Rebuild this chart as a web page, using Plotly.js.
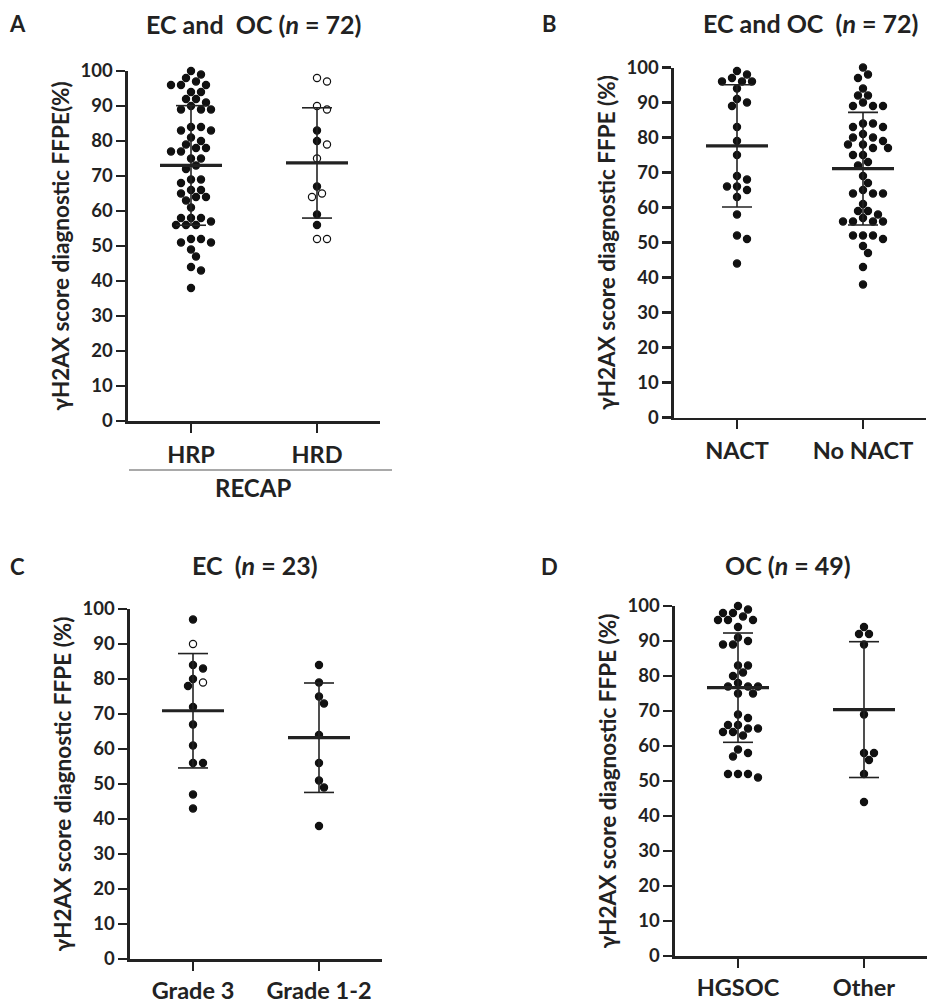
<!DOCTYPE html>
<html>
<head>
<meta charset="utf-8">
<script src="https://cdn.plot.ly/plotly-3.0.1.min.js"></script>
<style>html,body{margin:0;padding:0;background:#fff}#chart{width:927px;height:1003px}</style>
</head>
<body>
<div id="chart"></div>
<script>
// ---------- data ----------
const catsA = ['HRP', 'HRD'];
const hrpValues = [100,99,98,97,96,96,96,94,94,92,92,91,90,89,89,89,84,84,83,83,81,80,79,78,78,77,77,75,75,73,72,69,69,68,66,66,65,64,64,63,61,58,58,58,57,56,56,56,52,52,51,51,49,47,44,43,38];
const hrdValues = [98,97,90,89,83,80,79,75,67,65,64,59,56,52,52];
const hrdOpen   = [1,1,1,1,0,0,1,1,0,1,1,0,0,1,1];

const catsB = ['NACT', 'No NACT'];
const nactValues = [99,98,97,96,96,96,94,91,90,89,83,79,75,69,68,66,66,65,63,58,52,51,44];
const noNactValues = [100,98,97,94,92,92,90,89,89,89,84,84,83,83,81,80,80,79,78,78,77,77,75,75,73,72,69,67,65,64,64,64,61,59,59,58,57,56,56,56,56,52,52,52,51,49,47,43,38];

const catsC = ['Grade 3', 'Grade 1-2'];
const grade3Values = [97,90,84,83,80,79,78,72,67,61,56,56,47,43];
const grade3Open   = [0,1,0,0,0,1,0,0,0,0,0,0,0,0];
const grade12Values = [84,79,75,73,64,56,51,49,38];

const catsD = ['HGSOC', 'Other'];
const hgsocValues = [100,99,98,98,97,96,96,96,94,91,90,89,89,83,83,81,80,78,77,77,77,75,75,69,68,66,66,65,65,64,64,63,59,58,57,52,52,52,51];
const otherValues = [94,92,92,89,69,58,58,56,52,44];

const yTicks = [0,10,20,30,40,50,60,70,80,90,100];

// ---------- layout helpers ----------
const W = 927, H = 1003;
const FONT = 'Lato, "Open Sans", sans-serif';
const INK = '#222';

const panels = [
  {key:'', cats:catsA, groups:[{v:hrpValues},{v:hrdValues, open:hrdOpen}], xd:[128/W, 380/W], yd:[1-421/H, 1-71/H],
   ytitle:'γH2AX score diagnostic FFPE(%)', lstand:2},
  {key:'2', cats:catsB, groups:[{v:nactValues},{v:noNactValues}], xd:[674/W, 926/W], yd:[1-417.5/H, 1-67.5/H],
   ytitle:'γH2AX score diagnostic FFPE (%)', lstand:2},
  {key:'3', cats:catsC, groups:[{v:grade3Values, open:grade3Open},{v:grade12Values}], xd:[130/W, 382/W], yd:[1-959/H, 1-609/H],
   ytitle:'γH2AX score diagnostic FFPE (%)', lstand:0},
  {key:'4', cats:catsD, groups:[{v:hgsocValues},{v:otherValues}], xd:[675/W, 927/W], yd:[1-956/H, 1-606/H],
   ytitle:'γH2AX score diagnostic FFPE (%)', lstand:0}
];

function mean(a){return a.reduce((s,x)=>s+x,0)/a.length;}
function sd(a){const m=mean(a);return Math.sqrt(a.reduce((s,x)=>s+(x-m)*(x-m),0)/(a.length-1));}

// simple beeswarm: returns x offsets in px
function swarm(values, pxY, step, minD){
  const order = values.map((v,i)=>i).sort((a,b)=>values[b]-values[a]);
  const placed = [];
  const off = new Array(values.length).fill(0);
  for (const i of order){
    const y = values[i]*pxY;
    let done = false;
    for (let k=0; !done && k<20; k++){
      const cands = k===0 ? [0] : [k*step, -k*step];
      for (const c of cands){
        let ok = true;
        for (const p of placed){
          const dx=c-p.x, dy=y-p.y;
          if (dx*dx+dy*dy < minD*minD){ok=false;break;}
        }
        if (ok){off[i]=c;placed.push({x:c,y:y});done=true;break;}
      }
    }
  }
  return off;
}

const traces = [];
const layout = {
  width: W, height: H,
  margin: {l:0, r:0, t:0, b:0},
  paper_bgcolor: '#fff', plot_bgcolor: 'rgba(0,0,0,0)',
  showlegend: false,
  font: {family: FONT, color: INK},
  annotations: [], shapes: []
};

panels.forEach(p => {
  const xa = 'xaxis'+p.key, ya = 'yaxis'+p.key;
  const xr = 'x'+p.key, yr = 'y'+p.key;
  const pxX = (p.xd[1]-p.xd[0])*W/2;
  const pxY = (p.yd[1]-p.yd[0])*H/100;
  layout[xa] = {
    domain: p.xd, anchor: yr, range: [-0.5, 1.5], fixedrange: true,
    tickvals: [0,1], ticktext: p.cats,
    showline: true, linewidth: 2.6, linecolor: INK,
    ticks: 'outside', ticklen: 9, tickwidth: 2.6, tickcolor: INK,
    showgrid: false, zeroline: false, ticklabelstandoff: p.lstand,
    tickfont: {family: FONT, size: 23.5, weight: 'bold', color: INK}
  };
  layout[ya] = {
    domain: p.yd, anchor: xr, range: [0, 100], fixedrange: true,
    tickvals: yTicks, ticktext: yTicks.map(String),
    showline: true, linewidth: 2.6, linecolor: INK,
    ticks: 'outside', ticklen: 9, tickwidth: 2.6, tickcolor: INK,
    showgrid: false, zeroline: false,
    tickfont: {family: FONT, size: 18.5, weight: 'bold', color: INK},
    title: {text: p.ytitle, standoff: 5, font: {family: FONT, size: 22.5, weight: 'bold', color: INK}}
  };
  p.groups.forEach((g, gi) => {
    const offs = swarm(g.v, pxY, 5, 8.3);
    const xs = offs.map(o => gi + o/pxX);
    const syms = g.v.map((v,i) => (g.open && g.open[i]) ? 'circle-open' : 'circle');
    traces.push({
      type: 'scatter', mode: 'markers', xaxis: xr, yaxis: yr,
      x: xs, y: g.v, cliponaxis: false, hoverinfo: 'y',
      marker: {symbol: syms, size: 7.2, color: '#111', line: {color: '#111', width: 1.2}}
    });
    const m = mean(g.v), s = sd(g.v);
    const halfMean = 31/pxX, halfCap = 15/pxX;
    // SD whisker (vertical + caps)
    traces.push({
      type: 'scatter', mode: 'lines', xaxis: xr, yaxis: yr, hoverinfo: 'skip', cliponaxis: false,
      x: [gi-halfCap, gi+halfCap, null, gi, gi, null, gi-halfCap, gi+halfCap],
      y: [m+s, m+s, null, m+s, m-s, null, m-s, m-s],
      line: {color: INK, width: 1.6}
    });
    // mean line
    traces.push({
      type: 'scatter', mode: 'lines', xaxis: xr, yaxis: yr, hoverinfo: 'skip', cliponaxis: false,
      x: [gi-halfMean, gi+halfMean], y: [m, m],
      line: {color: INK, width: 3.2}
    });
  });
});

function ann(text, x, y, size, extra){
  layout.annotations.push(Object.assign({
    text: text, xref: 'paper', yref: 'paper', x: x/W, y: 1-y/H,
    xanchor: 'center', yanchor: 'middle', showarrow: false,
    font: {family: FONT, size: size, weight: 'bold', color: INK}
  }, extra || {}));
}
// panel letters
ann('A', 17, 23, 22);
ann('B', 549, 23, 22);
ann('C', 17, 566, 22);
ann('D', 549, 566, 22);
// panel titles
ann('EC and\u00a0 OC (<i>n</i> = 72)', 254, 24, 25);
ann('EC and OC\u00a0 (<i>n</i> = 72)', 810, 23, 25);
ann('EC\u00a0 (<i>n</i> = 23)', 255, 565, 25);
ann('OC (<i>n</i> = 49)', 788, 565, 25);
// RECAP group label
layout.shapes.push({type:'line', xref:'paper', yref:'paper', x0:129/W, x1:392/W, y0:1-470/H, y1:1-470/H,
  line:{color:'#555', width:1.2}});
ann('RECAP', 253, 487, 24);

Plotly.newPlot('chart', traces, layout, {staticPlot: true, displayModeBar: false});
</script>
</body>
</html>
